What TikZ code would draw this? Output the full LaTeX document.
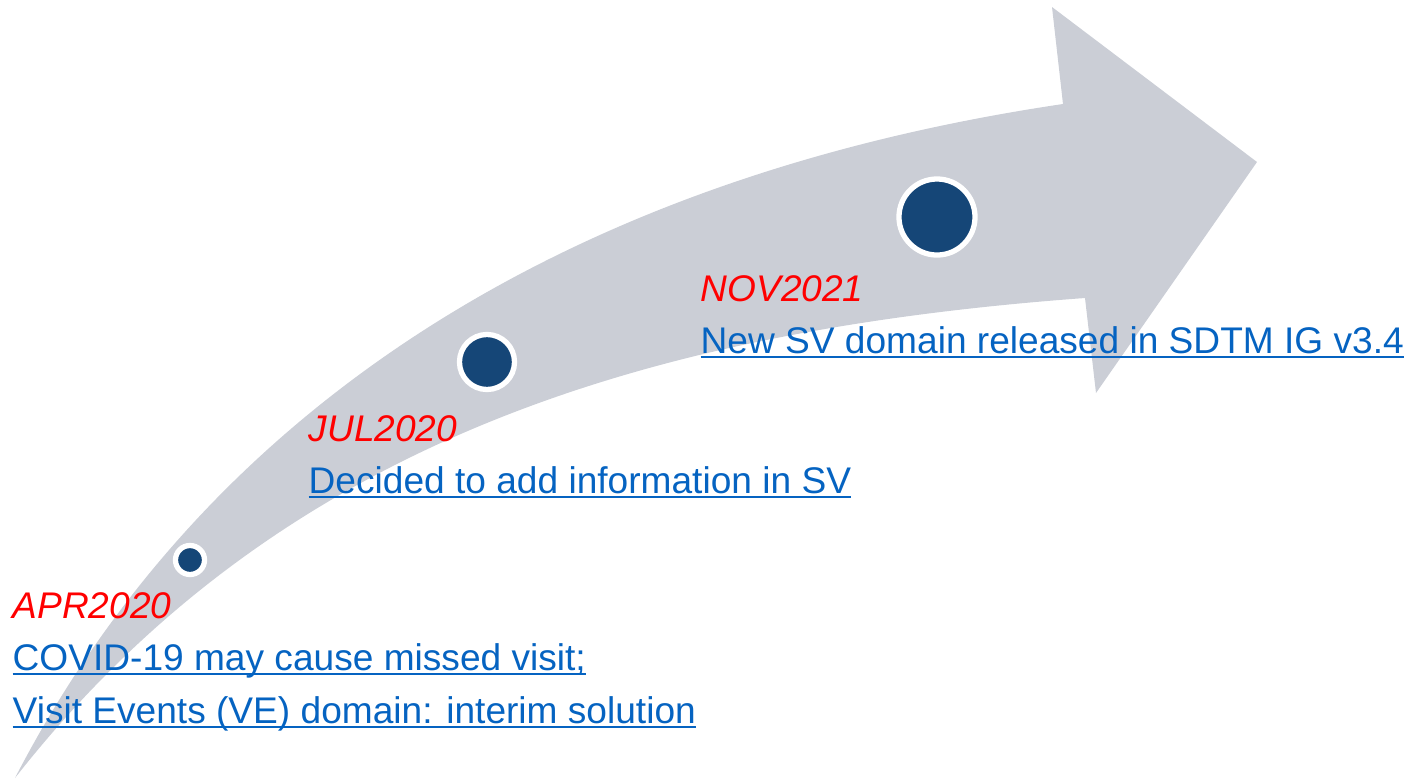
\documentclass[tikz,border=0pt]{standalone}
\usepackage{fontspec}
\setmainfont{Liberation Sans}

\newcommand{\ulink}[1]{\setbox0\hbox{#1}\rlap{\rule[-1.5pt]{\wd0}{0.6pt}}\box0}

\definecolor{arrowgray}{HTML}{CBCED6}
\definecolor{dotblue}{HTML}{154677}
\definecolor{linkblue}{HTML}{0563C1}

\tikzset{
    dot/.style={circle, fill=dotblue, draw=white, line width=1.5pt, inner sep=0pt},
    datelabel/.style={anchor=base west, inner sep=0pt, text=red,
        font=\fontsize{10.55}{14.8}\selectfont\itshape},
    eventlabel/.style={anchor=base west, inner sep=0pt, text=linkblue,
        font=\fontsize{10.55}{14.8}\selectfont},
}

\begin{document}
\begin{tikzpicture}[x=0.01cm, y=-0.01cm]
    \useasboundingbox (0, 0) rectangle (1414, 781);

    \fill[arrowgray] (15, 778) .. controls (200, 420) and (550, 180) .. (1063, 104)
        -- (1052, 7) -- (1257, 162) -- (1096, 393) -- (1085, 298)
        .. controls (650, 330) and (280, 440) .. (15, 778) -- cycle;

    \node[dot, minimum size=0.29cm] (p1) at (190, 560) {};
    \node[dot, minimum size=0.55cm] (p2) at (487, 362) {};
    \node[dot, minimum size=0.76cm] (p3) at (937, 217) {};

    \node[datelabel] (apr) at (12, 618) {APR2020};
    \node[eventlabel] (covid) at (12, 670) {\ulink{COVID-19 may cause missed visit;}};
    \node[eventlabel] (ve) at (12, 723) {\ulink{Visit Events (VE) domain: interim solution}};

    \node[datelabel] (jul) at (308, 441) {JUL2020};
    \node[eventlabel] (sv) at (308, 493) {\ulink{Decided to add information in SV}};

    \node[datelabel] (nov) at (700, 301) {NOV2021};
    \node[eventlabel] (ig) at (700, 353) {\ulink{New SV domain released in SDTM IG v3.4}};
\end{tikzpicture}
\end{document}
